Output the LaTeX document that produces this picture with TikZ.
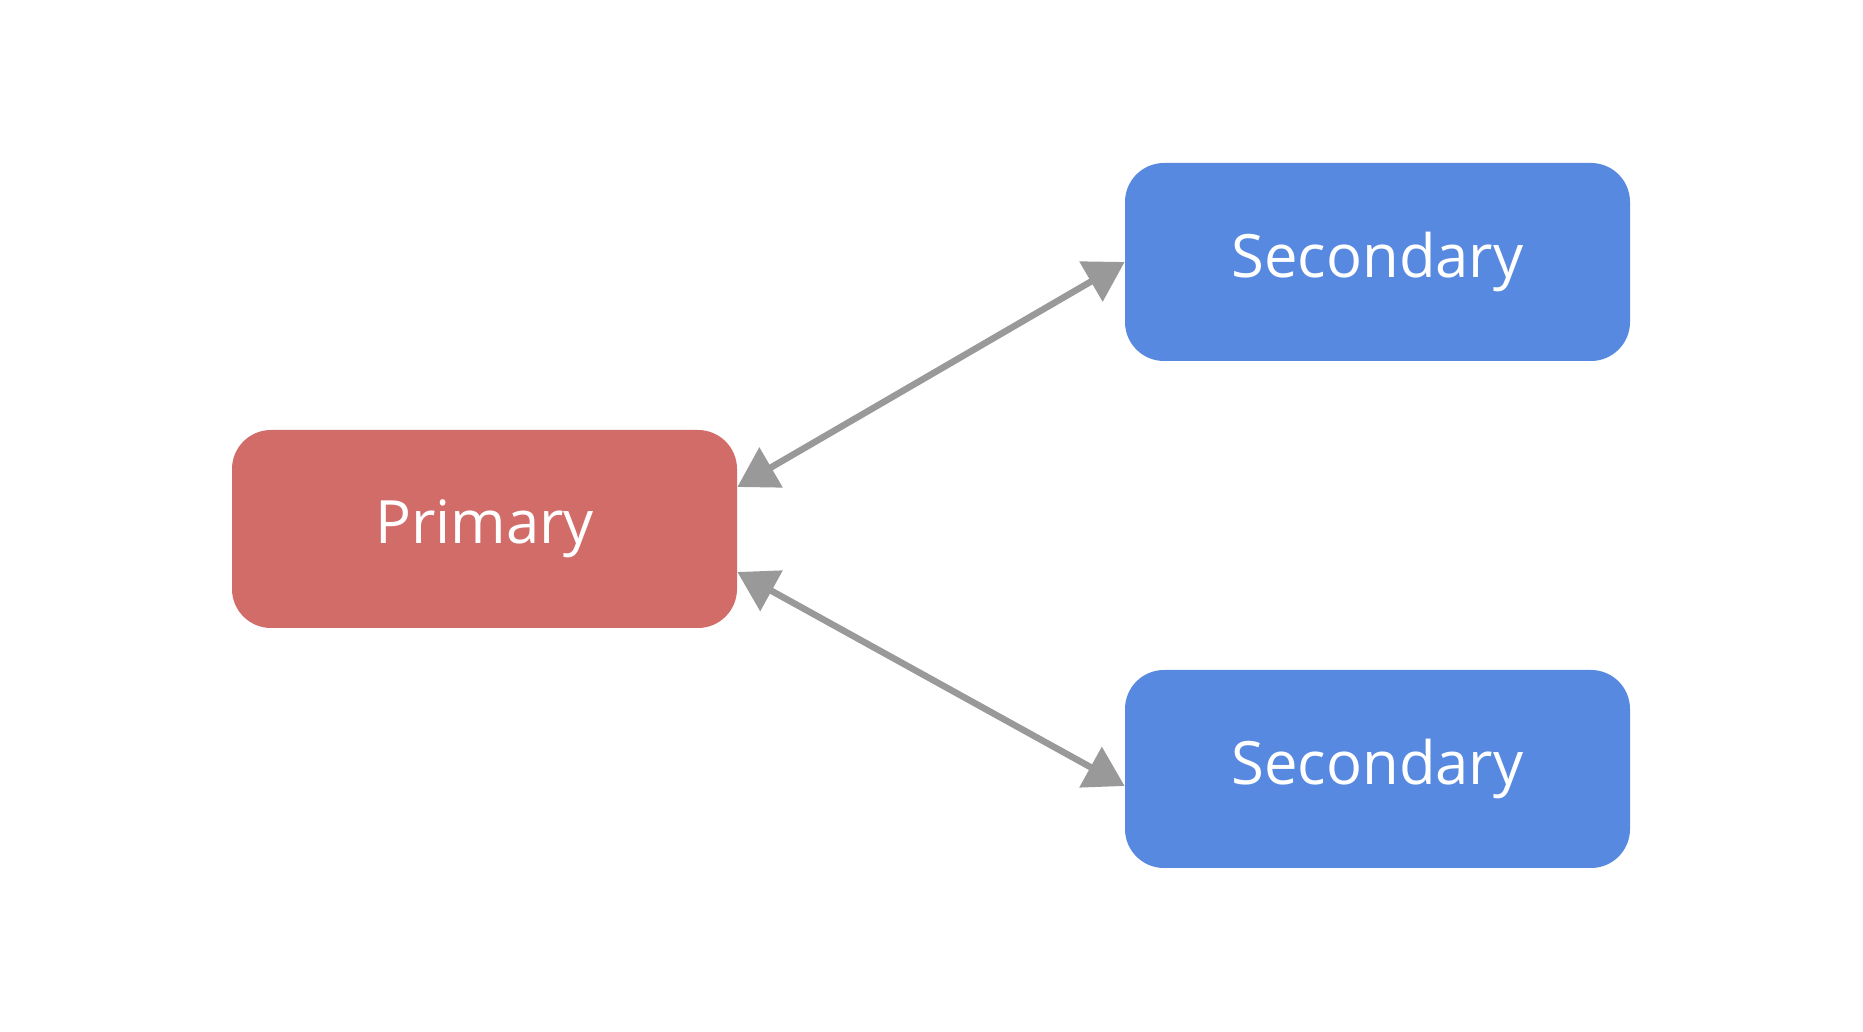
\documentclass[tikz,border=0pt]{standalone}
\usepackage{fontspec}
\setmainfont{Open Sans}
\usetikzlibrary{arrows.meta}
\definecolor{primred}{HTML}{D16C69}
\definecolor{secblue}{HTML}{5889E0}
\definecolor{linkgray}{HTML}{999999}
\tikzset{
  server/.style={rounded corners=0.78cm, minimum width=10.1cm, minimum height=3.96cm,
    inner sep=0pt, text=white, font=\fontsize{34}{40}\selectfont},
  link/.style={linkgray, line width=0.13cm, {Triangle[length=0.78cm,width=0.9cm]}-{Triangle[length=0.78cm,width=0.9cm]}}
}
\begin{document}
\begin{tikzpicture}
\useasboundingbox (0,0) rectangle (37.26,20.64);
\node[server, fill=primred] (primary) at (9.69,10.06) {Primary};
\node[server, fill=secblue] (sectop) at (27.55,15.40) {Secondary};
\node[server, fill=secblue] (secbot) at (27.55,5.26) {Secondary};
\draw[link] ([yshift=0.84cm]primary.east) -- (sectop.west);
\draw[link] ([yshift=-0.86cm]primary.east) -- ([yshift=-0.34cm]secbot.west);
\end{tikzpicture}
\end{document}
